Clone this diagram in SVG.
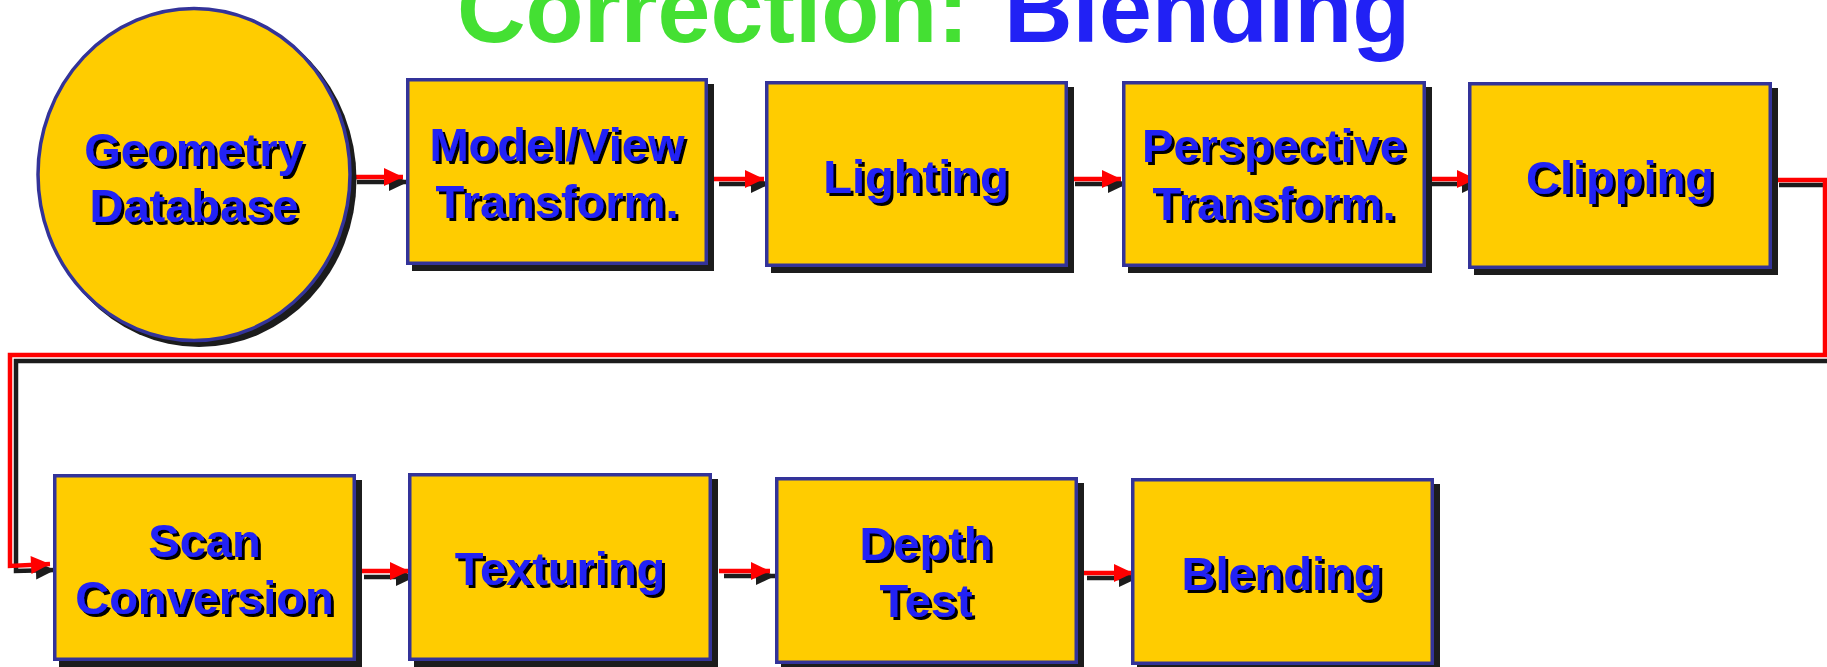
<svg xmlns="http://www.w3.org/2000/svg" width="1827" height="667" viewBox="0 0 1827 667">
  <defs>
    <style>
      .title { font-family: "Liberation Sans", Arial, sans-serif; font-weight: bold; font-size: 95px; }
      .node { fill: #FFCC00; stroke: #333399; stroke-width: 3.5; }
      .shadow { fill: #1c1c1c; }
      .label { font-family: "Liberation Sans", Arial, sans-serif; font-weight: bold; font-size: 47px; fill: #2121F5; text-anchor: middle; filter: url(#textShadow); }
      .wire-red { fill: none; stroke: #FF0000; stroke-width: 4.5; marker-end: url(#headRed); }
      .wire-dark { fill: none; stroke: #1c1c1c; stroke-width: 4.5; marker-end: url(#headDark); }
    </style>
    <filter id="textShadow" x="-5%" y="-10%" width="115%" height="130%">
      <feOffset in="SourceAlpha" dx="3" dy="3" result="off"/>
      <feMerge>
        <feMergeNode in="off"/>
        <feMergeNode in="SourceGraphic"/>
      </feMerge>
    </filter>
    <marker id="headRed" markerUnits="userSpaceOnUse" viewBox="0 0 20 20" markerWidth="20" markerHeight="20" refX="19" refY="10" orient="auto" overflow="visible">
      <path d="M0,1 L19,10 L0,19 z" fill="#FF0000"/>
    </marker>
    <marker id="headDark" markerUnits="userSpaceOnUse" viewBox="0 0 20 20" markerWidth="20" markerHeight="20" refX="19" refY="10" orient="auto" overflow="visible">
      <path d="M0,1 L19,10 L0,19 z" fill="#1c1c1c"/>
    </marker>
  </defs>

  <rect width="1827" height="667" fill="#FFFFFF"/>

  <!-- heading -->
  <text class="title" y="42"><tspan x="457" fill="#44E033">Correction: </tspan><tspan x="1004" fill="#2121F5">Blending</tspan></text>

  <!-- connectors: dark offset copy beneath, red on top -->
  <g id="connectors">
    <g id="connectors-dark">
      <path class="wire-dark" d="M357,182 L408,182"/>
      <path class="wire-dark" d="M719,184 L770,184"/>
      <path class="wire-dark" d="M1075,184 L1127,184"/>
      <path class="wire-dark" d="M1431,184 L1481,184"/>
      <path class="wire-dark" d="M1779,185 L1832,185 L1832,361 L16,361 L16,571 L55,570"/>
      <path class="wire-dark" d="M364,577 L415,577"/>
      <path class="wire-dark" d="M724,576 L775,576"/>
      <path class="wire-dark" d="M1087,578 L1138,578"/>
    </g>
    <g id="connectors-red">
      <path class="wire-red" d="M352,177 L403,177"/>
      <path class="wire-red" d="M713,179 L764,179"/>
      <path class="wire-red" d="M1070,179 L1121,179"/>
      <path class="wire-red" d="M1427,179 L1476,179"/>
      <path class="wire-red" d="M1774,180 L1825,180 L1825,355 L10,355 L10,566 L50,564"/>
      <path class="wire-red" d="M359,571 L409,571"/>
      <path class="wire-red" d="M719,571 L770,571"/>
      <path class="wire-red" d="M1081,573 L1133,573"/>
    </g>
  </g>

  <!-- pipeline stages -->
  <g id="geometry-database">
    <ellipse class="shadow" cx="199" cy="179.5" rx="157.5" ry="167.5"/>
    <ellipse class="node" cx="194" cy="174.5" rx="156" ry="166"/>
    <text class="label" x="194" y="166">Geometry</text>
    <text class="label" x="194" y="222">Database</text>
  </g>

  <g id="model-view-transform">
    <rect class="shadow" x="412" y="84" width="302" height="187"/>
    <rect class="node" x="407.75" y="79.75" width="298.5" height="183.5"/>
    <text class="label" x="557" y="161">Model/View</text>
    <text class="label" x="557" y="218">Transform.</text>
  </g>

  <g id="lighting">
    <rect class="shadow" x="771" y="87" width="303" height="186"/>
    <rect class="node" x="766.75" y="82.75" width="299.5" height="182.5"/>
    <text class="label" x="916" y="193">Lighting</text>
  </g>

  <g id="perspective-transform">
    <rect class="shadow" x="1128" y="87" width="304" height="186"/>
    <rect class="node" x="1123.75" y="82.75" width="300.5" height="182.5"/>
    <text class="label" x="1274" y="162">Perspective</text>
    <text class="label" x="1274" y="220">Transform.</text>
  </g>

  <g id="clipping">
    <rect class="shadow" x="1474" y="88" width="304" height="187"/>
    <rect class="node" x="1469.75" y="83.75" width="300.5" height="183.5"/>
    <text class="label" x="1620" y="194">Clipping</text>
  </g>

  <g id="scan-conversion">
    <rect class="shadow" x="59" y="480" width="303" height="187"/>
    <rect class="node" x="54.75" y="475.75" width="299.5" height="183.5"/>
    <text class="label" x="204.5" y="557">Scan</text>
    <text class="label" x="204.5" y="614">Conversion</text>
  </g>

  <g id="texturing">
    <rect class="shadow" x="414" y="479" width="304" height="188"/>
    <rect class="node" x="409.75" y="474.75" width="300.5" height="184.5"/>
    <text class="label" x="560" y="585">Texturing</text>
  </g>

  <g id="depth-test">
    <rect class="shadow" x="781" y="483" width="303" height="187"/>
    <rect class="node" x="776.75" y="478.75" width="299.5" height="183.5"/>
    <text class="label" x="926" y="560">Depth</text>
    <text class="label" x="926" y="617">Test</text>
  </g>

  <g id="blending">
    <rect class="shadow" x="1137" y="484" width="303" height="187"/>
    <rect class="node" x="1132.75" y="479.75" width="299.5" height="183.5"/>
    <text class="label" x="1282" y="590">Blending</text>
  </g>
</svg>
